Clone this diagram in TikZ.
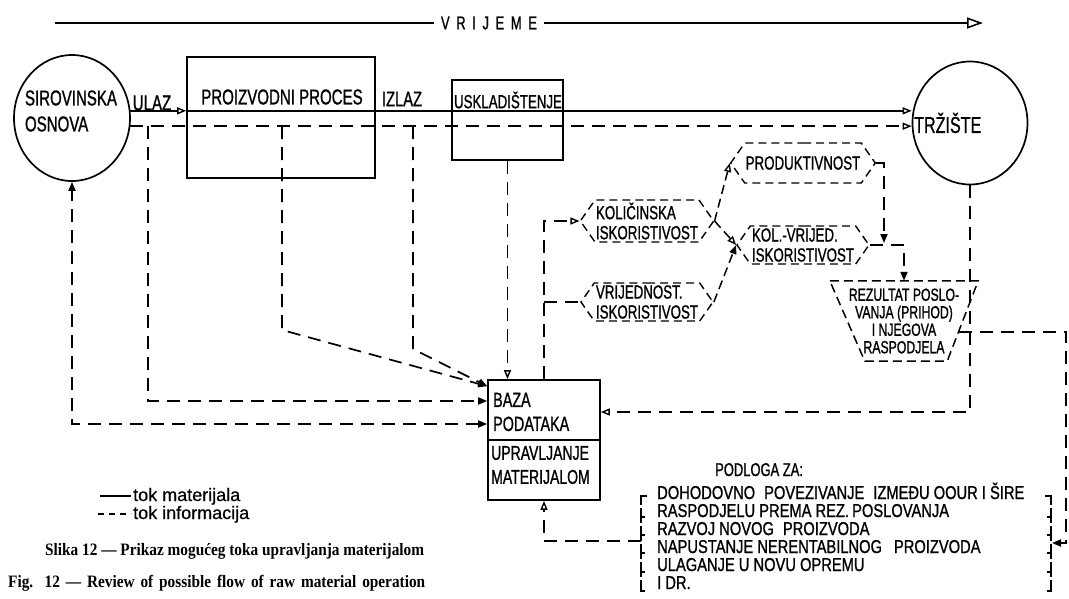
\documentclass[tikz,border=0pt]{standalone}
\usepackage{fontspec}
\setmainfont{Liberation Serif}
\newfontfamily\lf[FakeStretch=0.7,FakeBold=1]{Liberation Sans}
\newfontfamily\lfl[FakeStretch=0.79,FakeBold=1]{Liberation Sans}
\newfontfamily\lw[FakeBold=0.6]{Liberation Sans}
\newfontfamily\capf[FakeStretch=0.88]{Liberation Serif}
\usetikzlibrary{arrows.meta,shapes.geometric,shapes.symbols}
\newcommand\fsz[1]{\fontsize{#1}{#1}\selectfont}
\begin{document}
\begin{tikzpicture}[x=1pt,y=-1pt,
  mat/.style={line width=1.7pt},
  inf/.style={line width=1.7pt, dash pattern=on 13pt off 8pt},
  infs/.style={line width=1.5pt, dash pattern=on 9pt off 5pt},
  tipo/.style={-{Triangle[open,length=9pt,width=7pt,line width=1.4pt]}},
  tipf/.style={-{Triangle[length=9pt,width=7pt]}},
  twoway/.style={{Triangle[length=9pt,width=7pt]}-{Triangle[length=9pt,width=7pt]}},
  box/.style={draw,line width=1.7pt,inner sep=0pt},
  lab/.style={inner sep=0pt, font=\lf\fsz{21.5}},
  hexa/.style={signal, signal to=east and west, signal pointer angle=110, draw, line width=1.4pt, dash pattern=on 8pt off 5pt, minimum width=132pt, minimum height=40pt, inner xsep=1pt, inner ysep=0pt, align=left, font=\lf\fontsize{19}{20}\selectfont},
  brk/.style={line width=1.5pt, dash pattern=on 15pt off 3pt},
  lst/.style={inner sep=0pt, anchor=base west, font=\lfl\fsz{18.6}},
]
\useasboundingbox (0,0) rectangle (1069,598);

% time arrow
\coordinate (t0) at (55,23);
\coordinate (t1) at (983,23);
\node[lab,font=\lf\fsz{18.5},inner xsep=7pt] (vrij) at (489,23) {\makebox[96pt][s]{V R I J E M E}};
\draw[mat] (t0) -- (vrij.west);
\draw[mat,-{Triangle[open,length=16pt,width=11pt,line width=1.6pt]}] (vrij.east) -- (t1);

% main nodes
\node[ellipse,draw,line width=1.7pt,minimum width=116pt,minimum height=126pt,inner sep=0pt] (sir) at (72,118) {};
\node[lab,align=left,font=\lf\fontsize{21.5}{26}\selectfont] (sirt) at (71,111) {SIROVINSKA\\OSNOVA};
\node[ellipse,draw,line width=1.7pt,minimum width=115pt,minimum height=123pt,inner sep=0pt] (trz) at (970,123) {};
\node[lab,anchor=west,font=\lf\fsz{23}] (trzt) at (914,123) {TRŽIŠTE};

\node[box,minimum width=188pt,minimum height=121pt] (proc) at (281,117.5) {};
\node[lab] (proct) at (282,97) {PROIZVODNI PROCES};
\node[box,minimum width=111pt,minimum height=80pt] (usk) at (507.5,120) {};
\node[lab,font=\lf\fsz{19}] (uskt) at (508,100) {USKLADIŠTENJE};
\node[lab] (ulaz) at (152,103) {ULAZ};
\node[lab,font=\lf\fsz{21}] (izlaz) at (402,99) {IZLAZ};

% flows
\draw[mat,tipo] (sir.7) -- (sir.7 -| proc.west);
\draw[mat,tipo] (sir.7 -| proc.west) -- (sir.7 -| trz.west);
\draw[inf,tipo] (sir.-8) -- (sir.-8 -| trz.west);

% baza
\node[box,minimum width=112pt,minimum height=120pt] (baza) at (544,440) {};
\draw[line width=1.7pt] (baza.west) -- (baza.east);
\node[lab,anchor=west,align=left,font=\lf\fontsize{20.5}{24}\selectfont] (bazat) at (493,412) {BAZA\\PODATAKA};
\node[lab,anchor=west,align=left,font=\lf\fontsize{20}{24}\selectfont] (upt) at (491,465) {UPRAVLJANJE\\MATERIJALOM};

\coordinate (d1) at (148,126); \coordinate (c1) at (148,401);
\draw[inf,tipf] (d1) -- (c1) -- (c1 -| baza.west);
\coordinate (c2) at (72,424);
\draw[inf,twoway] (c2 -| baza.west) -- (c2) -- (sir.south);
\coordinate (d3) at (282,126); \coordinate (c3) at (282,330);
\draw[inf,tipf] (d3) -- (c3) -- ([yshift=-7pt]baza.north west);
\coordinate (d4) at (413,126); \coordinate (c4) at (413,349);
\draw[inf,tipf] (d4) -- (c4) -- ([yshift=-7pt]baza.north west);
\draw[inf,tipo] (usk.south) -- (usk.south |- baza.north);

% hexagons
\node[hexa] (prod) at (803,163) {PRODUKTIVNOST};
\node[hexa,minimum height=42pt] (kol) at (647,221) {KOLIČINSKA\\ISKORISTIVOST};
\node[hexa,minimum height=38pt] (kv) at (803,245) {KOL.-VRIJED.\\ISKORISTIVOST};
\node[hexa,minimum height=38pt] (vr) at (647,302) {VRIJEDNOST.\\ISKORISTIVOST};

\draw[inf,tipo] (baza.north) |- (kol.west);
\draw[inf] (baza.north |- vr.west) -- (vr.west);
\draw[infs,tipo] (kol.east) -- (prod.west);
\draw[infs,tipo] (kol.east) -- (kv.west);
\draw[infs,tipf] (vr.east) -- (kv.west);
\coordinate (j1) at (884,243);
\draw[inf,tipf] (prod.east) -| (j1);

% result
\node[inner sep=0pt,minimum width=148pt,minimum height=80pt,align=center,font=\lf\fontsize{17.5}{17.5}\selectfont] (rez) at (904,321) {REZULTAT POSLO-\\VANJA (PRIHOD)\\I NJEGOVA\\RASPODJELA};
\draw[infs] (rez.north west) -- (rez.north east) -- ([xshift=-31pt]rez.south east) -- ([xshift=35pt]rez.south west) -- cycle;
\draw[inf,tipf] (kv.east) -| (rez.north);
\coordinate (c5) at (970,412);
\draw[inf,tipo] (trz.south) -- (c5) -- (c5 -| baza.east);
\coordinate (rr) at (959,332); \coordinate (c6) at (1066,332);
\coordinate (c7) at (1066,543); \coordinate (rb) at (1052,543);
\draw[inf,tipf] (rr) -- (c6) -- (c7) -- (rb);

% list
\node[lst,font=\lf\fsz{18.5}] (podl) at (715,476) {PODLOGA ZA:};
\node[lst] (l1) at (657,499) {DOHODOVNO\hspace{9pt}POVEZIVANJE\hspace{9pt}IZMEĐU OOUR I ŠIRE};
\node[lst] (l2) at (657,517) {RASPODJELU PREMA REZ.\,POSLOVANJA};
\node[lst] (l3) at (657,535) {RAZVOJ NOVOG\hspace{9pt}PROIZVODA};
\node[lst] (l4) at (657,553) {NAPUSTANJE NERENTABILNOG\hspace{12pt}PROIZVODA};
\node[lst] (l5) at (657,571) {ULAGANJE U NOVU OPREMU};
\node[lst] (l6) at (657,589) {I DR.};
\draw[brk] (647,496) -- (641,496) -- (641,591) -- (647,591);
\draw[brk] (1045,496) -- (1051,496) -- (1051,591) -- (1045,591);
\foreach \yy in {517,535,553,572} {
  \draw[line width=1.5pt] (641,\yy) -- (645,\yy);
  \draw[line width=1.5pt] (1051,\yy) -- (1047,\yy);
}
\coordinate (lb) at (641,541);
\draw[inf,tipo] (lb) -| (baza.south);

% legend
\coordinate (g1) at (100,496); \coordinate (g2) at (131,496);
\draw[line width=1.4pt] (g1) -- (g2);
\node[lab,anchor=base west,font=\lw\fsz{18}] (lg1) at (133,501) {tok materijala};
\coordinate (g3) at (98,514); \coordinate (g4) at (131,514);
\draw[line width=1.4pt,dash pattern=on 6pt off 5pt] (g3) -- (g4);
\node[lab,anchor=base west,font=\lw\fsz{18}] (lg2) at (133,519) {tok informacija};

% captions
\node[anchor=base west,inner sep=0pt,font=\capf\bfseries\fsz{17.4}] (cap1) at (45,555) {Slika 12 — Prikaz mogućeg toka upravljanja materijalom};
\node[anchor=base west,inner sep=0pt,font=\capf\bfseries\fsz{17.4}] (cap2) at (8,587) {\makebox[417pt][s]{Fig. 12 — Review of possible flow of raw material operation}};
\end{tikzpicture}
\end{document}
